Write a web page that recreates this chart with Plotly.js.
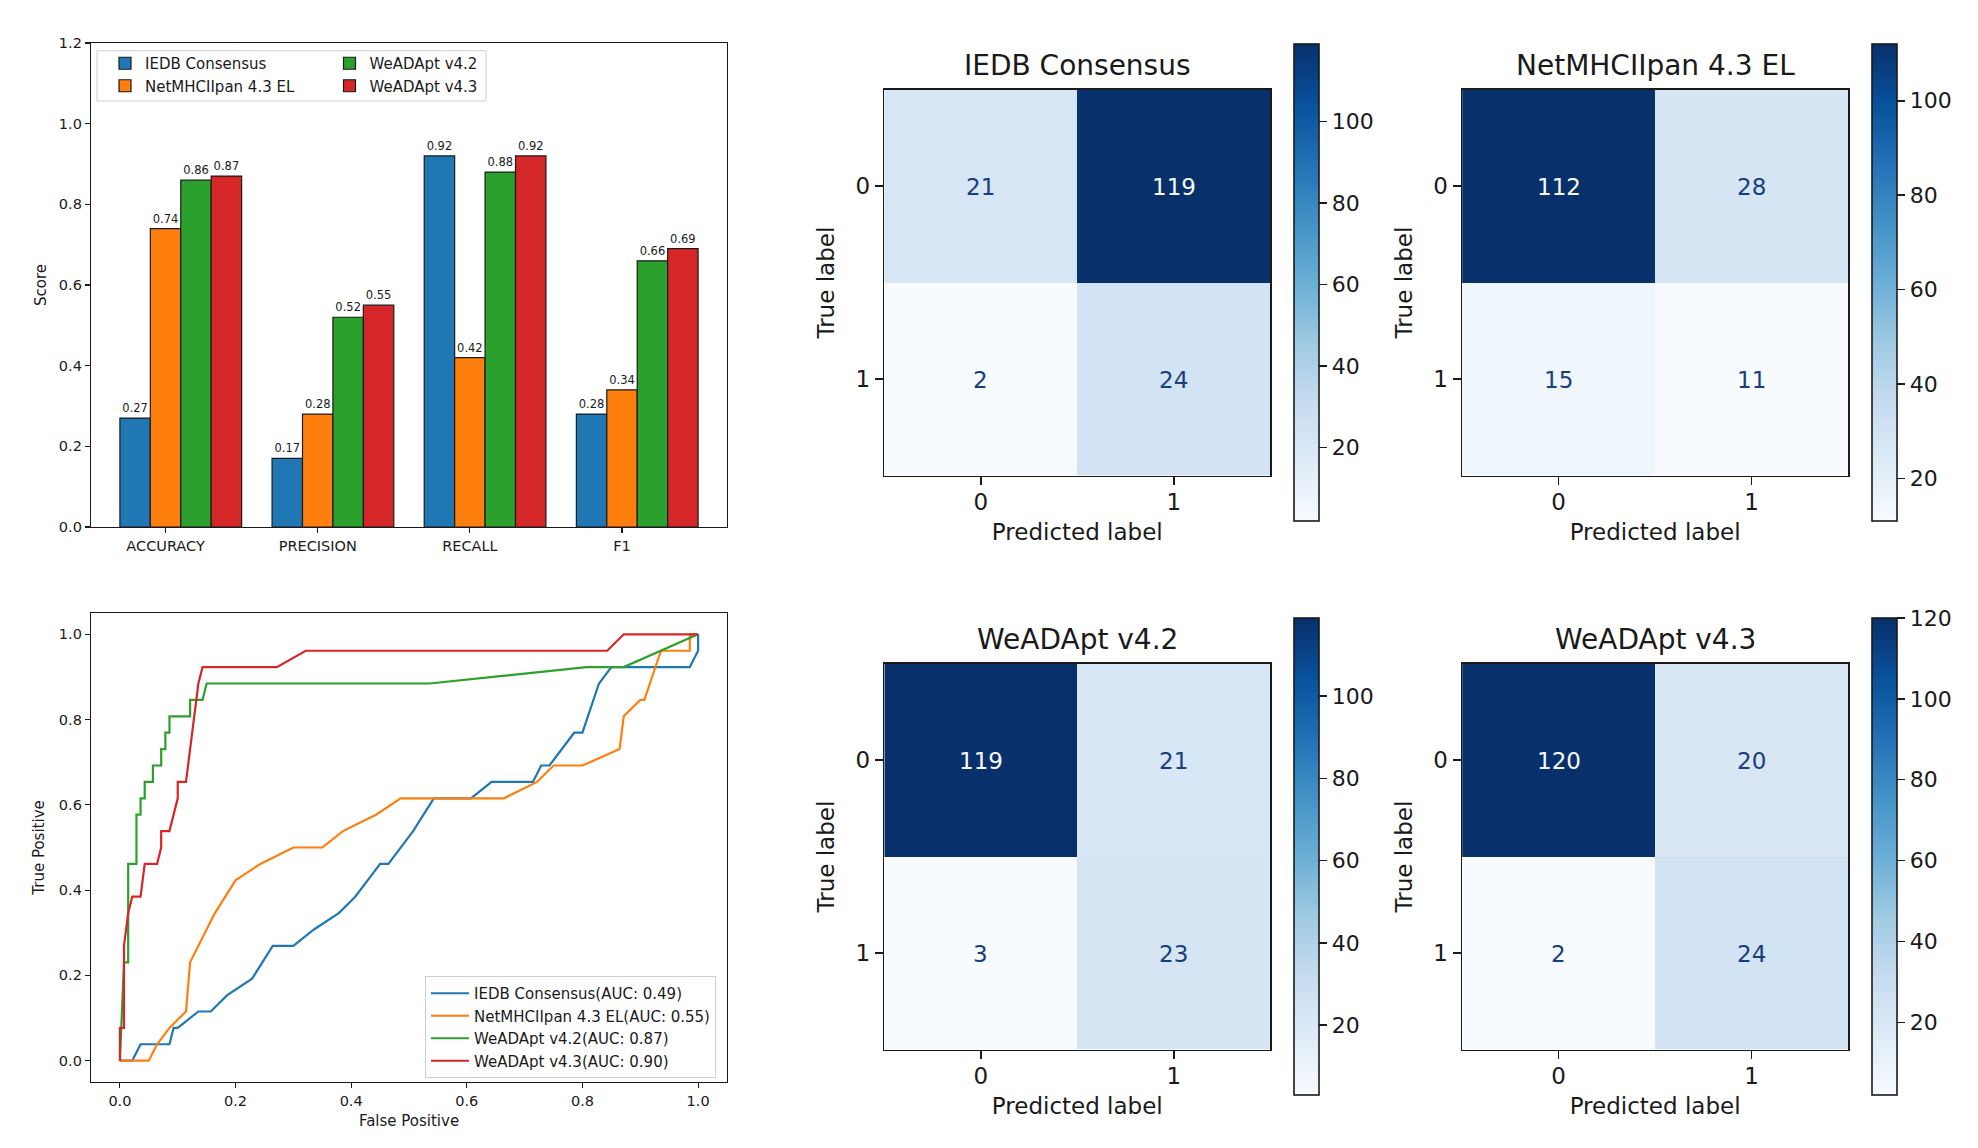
<!DOCTYPE html>
<html>
<head>
<meta charset="utf-8">
<script src="https://cdn.plot.ly/plotly-3.0.1.min.js"></script>
<style>html,body{margin:0;padding:0;background:#fff;}#chart{width:1978px;height:1148px;}</style>
</head>
<body>
<div id="chart"></div>
<script>
// ---------------- DATA ----------------
const categories = ['ACCURACY', 'PRECISION', 'RECALL', 'F1'];
const modelNames = ['IEDB Consensus', 'NetMHCIIpan 4.3 EL', 'WeADApt v4.2', 'WeADApt v4.3'];
const iedbScores = [0.27, 0.17, 0.92, 0.28];
const netmhcScores = [0.74, 0.28, 0.42, 0.34];
const weadapt42Scores = [0.86, 0.52, 0.88, 0.66];
const weadapt43Scores = [0.87, 0.55, 0.92, 0.69];

const aucValues = [0.49, 0.55, 0.87, 0.90];

const iedbFpr = [0, 0.0214, 0.0357, 0.0857, 0.0929, 0.1, 0.1357, 0.1571, 0.1857, 0.2286, 0.2643, 0.3, 0.3357, 0.3786, 0.4071, 0.45, 0.4643, 0.5071, 0.5429, 0.6071, 0.6429, 0.7143, 0.7286, 0.7429, 0.7857, 0.8, 0.8286, 0.85, 0.9857, 1, 1];
const iedbTpr = [0, 0, 0.0385, 0.0385, 0.0769, 0.0769, 0.1154, 0.1154, 0.1538, 0.1923, 0.2692, 0.2692, 0.3077, 0.3462, 0.3846, 0.4615, 0.4615, 0.5385, 0.6154, 0.6154, 0.6538, 0.6538, 0.6923, 0.6923, 0.7692, 0.7692, 0.8846, 0.9231, 0.9231, 0.9615, 1];

const netmhcFpr = [0, 0.05, 0.0643, 0.0857, 0.1143, 0.1214, 0.1643, 0.2, 0.2429, 0.3, 0.35, 0.3857, 0.4429, 0.4857, 0.6643, 0.7214, 0.75, 0.8, 0.8643, 0.8714, 0.9, 0.9071, 0.9357, 0.9857, 0.9857, 1];
const netmhcTpr = [0, 0, 0.0385, 0.0769, 0.1154, 0.2308, 0.3462, 0.4231, 0.4615, 0.5, 0.5, 0.5385, 0.5769, 0.6154, 0.6154, 0.6538, 0.6923, 0.6923, 0.7308, 0.8077, 0.8462, 0.8462, 0.9615, 0.9615, 1, 1];

const weadapt42Fpr = [0, 0.0071, 0.0143, 0.0143, 0.0286, 0.0286, 0.0357, 0.0357, 0.0429, 0.0429, 0.0571, 0.0571, 0.0714, 0.0714, 0.0786, 0.0786, 0.0857, 0.0857, 0.1214, 0.1214, 0.1429, 0.15, 0.5357, 0.8071, 0.8714, 1];
const weadapt42Tpr = [0, 0.2308, 0.2308, 0.4615, 0.4615, 0.5769, 0.5769, 0.6154, 0.6154, 0.6538, 0.6538, 0.6923, 0.6923, 0.7308, 0.7308, 0.7692, 0.7692, 0.8077, 0.8077, 0.8462, 0.8462, 0.8846, 0.8846, 0.9231, 0.9231, 1];

const weadapt43Fpr = [0, 0, 0.0071, 0.0071, 0.0143, 0.0214, 0.0357, 0.0429, 0.0643, 0.0714, 0.0714, 0.0857, 0.1, 0.1, 0.1143, 0.1357, 0.1429, 0.2714, 0.3214, 0.8429, 0.8714, 1];
const weadapt43Tpr = [0, 0.0769, 0.0769, 0.2692, 0.3462, 0.3846, 0.3846, 0.4615, 0.4615, 0.5, 0.5385, 0.5385, 0.6154, 0.6538, 0.6538, 0.8846, 0.9231, 0.9231, 0.9615, 0.9615, 1, 1];

const cmIedb = [[21, 119], [2, 24]];
const cmNetmhc = [[112, 28], [15, 11]];
const cmWeadapt42 = [[119, 21], [3, 23]];
const cmWeadapt43 = [[120, 20], [2, 24]];
const cmTickLabels = ['0', '1'];

// ---------------- STYLE ----------------
const W = 1978, H = 1148;
const FONT = 'DejaVu Sans';
const TXT = '#1a1a1a';
const colors = ['#1f77b4', '#ff7f0e', '#2ca02c', '#d62728'];
const blues = [[0, '#f7fbff'], [0.125, '#deebf7'], [0.25, '#c6dbef'], [0.375, '#9ecae1'], [0.5, '#6baed6'], [0.625, '#4292c6'], [0.75, '#2171b5'], [0.875, '#08519c'], [1, '#08306b']];
const px = v => v / W;
const py = v => 1 - v / H;

const traces = [];

// ---- Bar chart ----
const scoreSets = [iedbScores, netmhcScores, weadapt42Scores, weadapt43Scores];
const offsets = [-0.2, 0, 0.2, 0.4];
const barLegends = ['legend', 'legend', 'legend3', 'legend3'];
scoreSets.forEach((vals, k) => {
  traces.push({
    type: 'bar', xaxis: 'x', yaxis: 'y',
    x: categories.map((c, i) => i + offsets[k]), y: vals, width: 0.2,
    name: modelNames[k], legend: barLegends[k],
    marker: {color: colors[k], line: {color: '#1a1a1a', width: 1.2}},
    text: vals.map(v => v.toFixed(2)), textposition: 'outside', cliponaxis: false,
    constraintext: 'none',
    textfont: {family: FONT, size: 11.5, color: TXT},
    hoverinfo: 'skip'
  });
});

// ---- ROC ----
const rocSets = [[iedbFpr, iedbTpr], [netmhcFpr, netmhcTpr], [weadapt42Fpr, weadapt42Tpr], [weadapt43Fpr, weadapt43Tpr]];
rocSets.forEach((s, k) => {
  traces.push({
    type: 'scatter', mode: 'lines', xaxis: 'x2', yaxis: 'y2',
    x: s[0], y: s[1], name: modelNames[k] + '(AUC: ' + aucValues[k].toFixed(2) + ')',
    legend: 'legend2', line: {color: colors[k], width: 2.2}, hoverinfo: 'skip'
  });
});

// ---- Confusion matrices ----
const cms = [cmIedb, cmNetmhc, cmWeadapt42, cmWeadapt43];
const hmX = [[884.3, 1270.3], [1462.1, 1848.1], [884.3, 1270.3], [1462.1, 1848.1]];
const hmY = [[89.6, 475.6], [89.6, 475.6], [663.5, 1049.6], [663.5, 1049.6]];
const cbX = [1294.3, 1872.1, 1294.3, 1872.1];
const cbY = [[44.2, 521], [44.2, 521], [618.1, 1095], [618.1, 1095]];
const annotations = [];
const layoutAxes = {};
cms.forEach((cm, k) => {
  const n = k + 3;
  const flat = cm.flat();
  const zmin = Math.min(...flat), zmax = Math.max(...flat);
  traces.push({
    type: 'heatmap', xaxis: 'x' + n, yaxis: 'y' + n,
    z: cm, x: [0, 1], y: [0, 1], colorscale: blues, zmin: zmin, zmax: zmax,
    hoverinfo: 'skip', showlegend: false,
    colorbar: {
      x: px(cbX[k]), xanchor: 'left', y: py((cbY[k][0] + cbY[k][1]) / 2), yanchor: 'middle',
      len: (cbY[k][1] - cbY[k][0]) / H, lenmode: 'fraction',
      thickness: 25.3, thicknessmode: 'pixels', xpad: 0, ypad: 0,
      outlinewidth: 1.6, outlinecolor: '#1a1a1a',
      ticks: 'outside', ticklen: 8, tickwidth: 1.5, tickcolor: '#1a1a1a',
      tick0: 0, dtick: 20, tickfont: {family: FONT, size: 22, color: TXT}
    }
  });
  const thresh = (zmin + zmax) / 2;
  cm.forEach((row, r) => row.forEach((v, c) => {
    annotations.push({
      text: String(v), xref: 'x' + n, yref: 'y' + n, x: c, y: r,
      xanchor: 'center', yanchor: 'middle', yshift: -1, showarrow: false,
      font: {family: FONT, size: 23, color: v > thresh ? '#f7fbff' : '#173f7c'}
    });
  }));
  const axBase = {
    showline: true, mirror: true, linecolor: '#1a1a1a', linewidth: 1.6,
    ticks: 'outside', ticklen: 8, tickwidth: 1.5, tickcolor: '#1a1a1a',
    tickvals: [0, 1], ticktext: cmTickLabels, showgrid: false, zeroline: false,
    tickfont: {family: FONT, size: 23, color: TXT}, fixedrange: true
  };
  layoutAxes['xaxis' + n] = Object.assign({}, axBase, {
    domain: [px(hmX[k][0]), px(hmX[k][1])], range: [-0.5, 1.5], anchor: 'y' + n,
    ticklabelstandoff: -3,
    title: {text: 'Predicted label', font: {family: FONT, size: 23, color: TXT}, standoff: 10}
  });
  layoutAxes['yaxis' + n] = Object.assign({}, axBase, {
    domain: [py(hmY[k][1]), py(hmY[k][0])], range: [1.5, -0.5], anchor: 'x' + n,
    title: {text: 'True label', font: {family: FONT, size: 23, color: TXT}, standoff: 14}
  });
  annotations.push({
    text: modelNames[k], xref: 'x' + n + ' domain', yref: 'y' + n + ' domain',
    x: 0.5, y: 1, xanchor: 'center', yanchor: 'bottom', yshift: 6, showarrow: false,
    font: {family: FONT, size: 28, color: TXT}
  });
});

const leftAx = {
  showline: true, mirror: true, linecolor: '#1a1a1a', linewidth: 1.2,
  ticks: 'outside', ticklen: 5, tickwidth: 1.1, tickcolor: '#1a1a1a',
  showgrid: false, zeroline: false, tickfont: {family: FONT, size: 14.5, color: TXT}, fixedrange: true
};

const layout = Object.assign({
  width: W, height: H, margin: {l: 0, r: 0, t: 0, b: 0},
  paper_bgcolor: '#fff', plot_bgcolor: '#fff', showlegend: true,
  font: {family: FONT, color: TXT},
  barmode: 'overlay',
  xaxis: Object.assign({}, leftAx, {
    domain: [px(91), px(727)], range: [-0.49, 3.69], anchor: 'y',
    tickvals: categories.map((c, i) => i), ticktext: categories
  }),
  yaxis: Object.assign({}, leftAx, {
    domain: [py(527), py(43)], range: [0, 1.2], anchor: 'x', dtick: 0.2, tick0: 0, tickformat: '.1f',
    title: {text: 'Score', font: {family: FONT, size: 15, color: TXT}, standoff: 8}
  }),
  xaxis2: Object.assign({}, leftAx, {
    domain: [px(91), px(727)], range: [-0.05, 1.05], anchor: 'y2', dtick: 0.2, tick0: 0, tickformat: '.1f',
    title: {text: 'False Positive', font: {family: FONT, size: 15, color: TXT}, standoff: 8}
  }),
  yaxis2: Object.assign({}, leftAx, {
    domain: [py(1082), py(613)], range: [-0.05, 1.05], anchor: 'x2', dtick: 0.2, tick0: 0, tickformat: '.1f',
    title: {text: 'True Positive', font: {family: FONT, size: 15, color: TXT}, standoff: 10}
  }),
  legend: {
    x: px(105), y: py(47), xanchor: 'left', yanchor: 'top', orientation: 'v',
    bgcolor: 'rgba(0,0,0,0)', borderwidth: 0, font: {family: FONT, size: 15, color: TXT},
    itemwidth: 30, tracegroupgap: 0
  },
  legend3: {
    x: px(329.5), y: py(47), xanchor: 'left', yanchor: 'top', orientation: 'v',
    bgcolor: 'rgba(0,0,0,0)', borderwidth: 0, font: {family: FONT, size: 15, color: TXT},
    itemwidth: 30, tracegroupgap: 0
  },
  legend2: {
    x: px(425), y: py(976), xanchor: 'left', yanchor: 'top', orientation: 'v',
    bgcolor: 'rgba(255,255,255,0.85)', bordercolor: '#d0d0d0', borderwidth: 1,
    font: {family: FONT, size: 15, color: TXT}, itemwidth: 38, tracegroupgap: 0
  },
  shapes: [{
    type: 'rect', xref: 'paper', yref: 'paper', x0: px(97), x1: px(486), y0: py(101), y1: py(50.7),
    line: {color: '#d0d0d0', width: 1}, fillcolor: 'rgba(255,255,255,0.85)', layer: 'below'
  }],
  annotations: annotations
}, layoutAxes);

Plotly.newPlot('chart', traces, layout, {staticPlot: true, displayModeBar: false});
</script>
</body>
</html>
